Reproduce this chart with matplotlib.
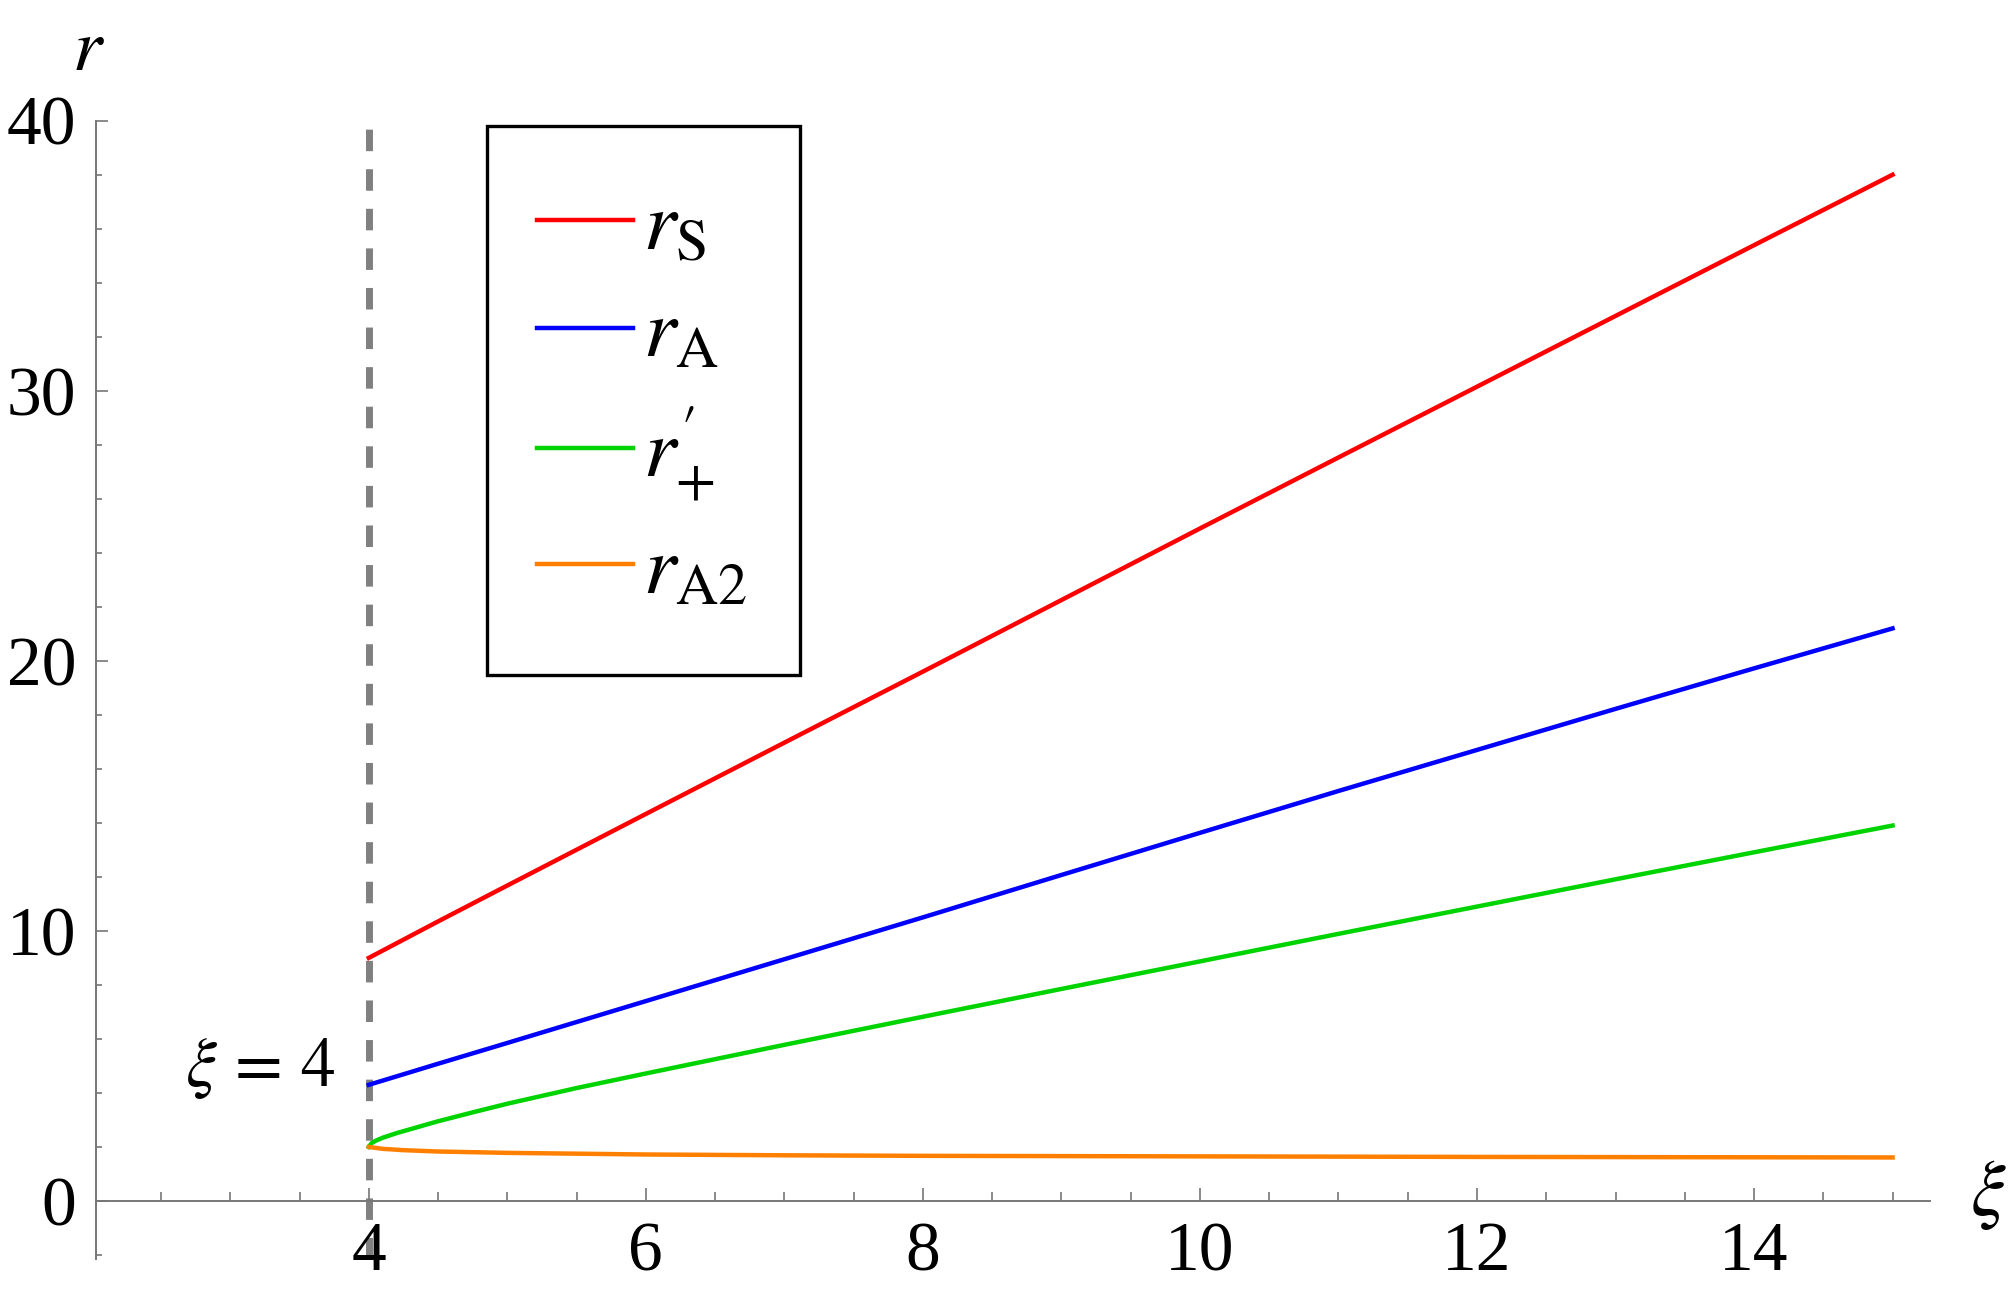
import matplotlib
matplotlib.use("Agg")
import matplotlib.pyplot as plt
from matplotlib.patches import Rectangle

plt.rcParams['font.family'] = ['Liberation Serif', 'DejaVu Serif']
plt.rcParams['mathtext.fontset'] = 'stix'

# values
xi_sa = [4, 4.5, 5, 6, 7, 8, 9, 10, 11, 12, 13, 14, 15]
r_S = [9.0, 10.35, 11.68, 14.33, 16.97, 19.6, 22.25, 24.9, 27.53, 30.15, 32.77, 35.39, 38.0]
r_A = [4.3, 5.08, 5.85, 7.4, 8.95, 10.5, 12.07, 13.63, 15.18, 16.7, 18.22, 19.72, 21.2]

xi_p = [4, 4.02, 4.05, 4.1, 4.2, 4.35, 4.5, 4.75, 5, 5.5, 6, 7, 8, 9, 10, 11, 12, 13, 14, 15]
r_plus = [2.0, 2.14, 2.23, 2.34, 2.51, 2.73, 2.95, 3.28, 3.6, 4.18, 4.72, 5.78, 6.82, 7.85,
          8.87, 9.89, 10.9, 11.91, 12.91, 13.9]

xi_a2 = [4, 4.1, 4.25, 4.5, 5, 6, 7, 8, 10, 12, 15]
r_A2 = [2.0, 1.93, 1.88, 1.83, 1.78, 1.72, 1.69, 1.67, 1.65, 1.63, 1.61]

labels = [r'$r_{\mathrm{S}}$', r'$r_{\mathrm{A}}$', r"$r^{\prime}_{+}$", r'$r_{\mathrm{A2}}$']
colors = ['#ff0000', '#0000ff', '#00d400', '#ff8000']

x_ticks = [4, 6, 8, 10, 12, 14]
y_ticks = [0, 10, 20, 30, 40]

fig = plt.figure(figsize=(10.055, 6.475), dpi=200)
ax = fig.add_axes([0.0477, 0.0278, 0.912, 0.879])

axc = '#777777'
ax.axvline(4, color='#808080', lw=2.5, dashes=(3.1, 2.6), zorder=1)

ax.plot(xi_sa, r_S, color=colors[0], lw=1.6, label=labels[0])
ax.plot(xi_sa, r_A, color=colors[1], lw=1.6, label=labels[1])
ax.plot(xi_p, r_plus, color=colors[2], lw=1.6, label=labels[2])
ax.plot(xi_a2, r_A2, color=colors[3], lw=1.6, label=labels[3])

ax.set_xlim(2.03, 15.27)
ax.set_ylim(-2.15, 40)

ax.spines['top'].set_visible(False)
ax.spines['right'].set_visible(False)
ax.spines['bottom'].set_position(('data', 0))
for s in ['left', 'bottom']:
    ax.spines[s].set_color(axc)
    ax.spines[s].set_linewidth(0.7)

ax.set_xticks(x_ticks)
ax.set_xticks([v / 2 for v in range(5, 31) if v / 2 not in x_ticks], minor=True)
ax.set_yticks(y_ticks)
ax.set_yticks([v for v in range(-2, 41, 2) if v not in y_ticks], minor=True)
ax.tick_params(which='both', direction='in', color=axc, width=0.6, labelsize=25)
ax.tick_params(axis='x', which='major', length=4.6, pad=7.5)
ax.tick_params(axis='x', which='minor', length=3.4)
ax.tick_params(axis='y', which='major', length=4.2, pad=7)
ax.tick_params(axis='y', which='minor', length=2.2)

ax.text(-0.004, 1.06, r'$r$', transform=ax.transAxes, fontsize=27, ha='center', va='center')
ax.annotate(r'$\xi$', xy=(15.27, 0), xytext=(21, 2), textcoords='offset points',
            fontsize=28, ha='center', va='center', annotation_clip=False)
ax.text(3.22, 4.9, r'$\xi\,=\,4$', fontsize=25, ha='center', va='center')

ax.add_patch(Rectangle((0.213, 0.513), 0.171, 0.482, transform=ax.transAxes,
                       fill=False, edgecolor='black', lw=1.2, clip_on=False))
ax.legend(loc='upper left', bbox_to_anchor=(0.2405, 0.938), frameon=False,
          fontsize=30, handlelength=1.15, handletextpad=0.12, borderpad=0,
          borderaxespad=0, labelspacing=0.37)

fig.savefig('out.png', dpi=200)
